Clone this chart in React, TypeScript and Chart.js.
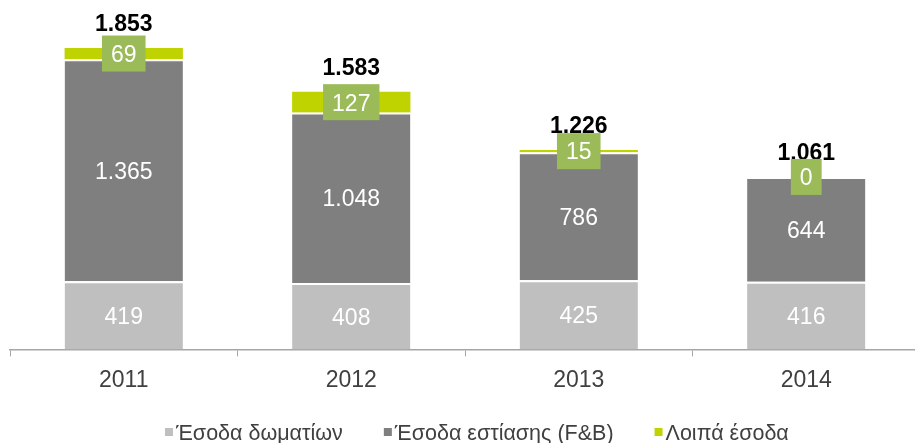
import { useEffect, useRef } from "react";
import { Chart, registerables } from "chart.js";

Chart.register(...registerables);

const categories = ["2011", "2012", "2013", "2014"];
const roomsRevenue = [419, 408, 425, 416];
const fbRevenue = [1365, 1048, 786, 644];
const otherRevenue = [69, 127, 15, 0];
const totals = [1853, 1583, 1226, 1061];
const seriesLabels = ["Έσοδα δωματίων", "Έσοδα εστίασης (F&B)", "Λοιπά έσοδα"];
const seriesColors = ["#bfbfbf", "#7f7f7f", "#bfd300"];
const yMax = 2000;

const FONT = "'Liberation Sans', Arial, sans-serif";

function fmt(n: number): string {
  return String(n).replace(/\B(?=(\d{3})+(?!\d))/g, ".");
}

const labelsPlugin = {
  id: "valueLabels",
  afterDatasetsDraw(chart: any) {
    const ctx = chart.ctx;
    ctx.save();
    ctx.textAlign = "center";
    ctx.textBaseline = "middle";
    // totals first (boxes overlap them as in the original)
    const topMeta = chart.getDatasetMeta(2);
    ctx.font = `bold 23px ${FONT}`;
    ctx.fillStyle = "#000000";
    topMeta.data.forEach((el: any, i: number) => {
      const { x, y } = el.getProps(["x", "y"], true);
      ctx.fillText(fmt(totals[i]), x, y - 23.5);
    });
    ctx.font = `23px ${FONT}`;
    chart.data.datasets.forEach((ds: any, di: number) => {
      const meta = chart.getDatasetMeta(di);
      meta.data.forEach((el: any, i: number) => {
        const { x, y, base } = el.getProps(["x", "y", "base"], true);
        const cy = (y + base) / 2;
        const text = fmt(ds.data[i]);
        if (di === 2) {
          const w = ctx.measureText(text).width + 18;
          const h = 36;
          ctx.fillStyle = "#9bbb59";
          ctx.fillRect(x - w / 2, cy - h / 2, w, h);
        }
        ctx.fillStyle = "#ffffff";
        ctx.fillText(text, x, cy + 2);
      });
    });
    ctx.restore();
  },
};

const legendPlugin = {
  id: "customLegend",
  afterDraw(chart: any) {
    const ctx = chart.ctx;
    ctx.save();
    ctx.font = `21.5px ${FONT}`;
    ctx.textBaseline = "middle";
    ctx.textAlign = "left";
    const box = 8;
    const gap = 3;
    const itemGap = 41;
    let x = 165;
    const cy = 434;
    seriesLabels.forEach((label, i) => {
      ctx.fillStyle = seriesColors[i];
      ctx.fillRect(x, cy - 6, box, box);
      ctx.fillStyle = "#404040";
      ctx.fillText(label, x + box + gap, cy);
      x += box + gap + ctx.measureText(label).width + itemGap;
    });
    ctx.restore();
  },
};

export default function App() {
  const ref = useRef<HTMLCanvasElement | null>(null);

  useEffect(() => {
    document.body.style.overflow = "hidden";
    document.documentElement.style.overflow = "hidden";
    const canvas = ref.current;
    if (!canvas) return;
    const chart = new Chart(canvas, {
      type: "bar",
      data: {
        labels: categories,
        datasets: [
          {
            label: seriesLabels[0],
            data: roomsRevenue,
            backgroundColor: seriesColors[0],
            borderColor: "#ffffff",
            borderWidth: { top: 2, left: 0, right: 0, bottom: 0 },
          },
          {
            label: seriesLabels[1],
            data: fbRevenue,
            backgroundColor: seriesColors[1],
            borderColor: "#ffffff",
            borderWidth: { top: 2, left: 0, right: 0, bottom: 0 },
          },
          {
            label: seriesLabels[2],
            data: otherRevenue,
            backgroundColor: seriesColors[2],
            borderWidth: 0,
          },
        ],
      },
      options: {
        animation: false,
        responsive: false,
        devicePixelRatio: 1,
        datasets: {
          bar: { categoryPercentage: 1, barPercentage: 0.52 },
        },
        layout: { padding: { top: 24, left: 10, right: 5, bottom: 39 } },
        plugins: {
          legend: { display: false },
          tooltip: { enabled: false },
        },
        scales: {
          x: {
            stacked: true,
            grid: {
              display: true,
              drawOnChartArea: false,
              drawTicks: true,
              tickLength: 7,
              color: "#a6a6a6",
              lineWidth: 1,
            },
            border: { display: true, color: "#a6a6a6", width: 1.5 },
            ticks: {
              color: "#404040",
              font: { family: FONT, size: 23 },
              padding: 10,
            },
          },
          y: { stacked: true, display: false, min: 0, max: yMax },
        },
      },
      plugins: [labelsPlugin, legendPlugin],
    });
    return () => chart.destroy();
  }, []);

  return (
    <div style={{ position: "absolute", left: 0, top: 0, width: 925, height: 443, background: "#ffffff" }}>
      <canvas ref={ref} width={925} height={443} style={{ width: 925, height: 443, display: "block" }} />
    </div>
  );
}
